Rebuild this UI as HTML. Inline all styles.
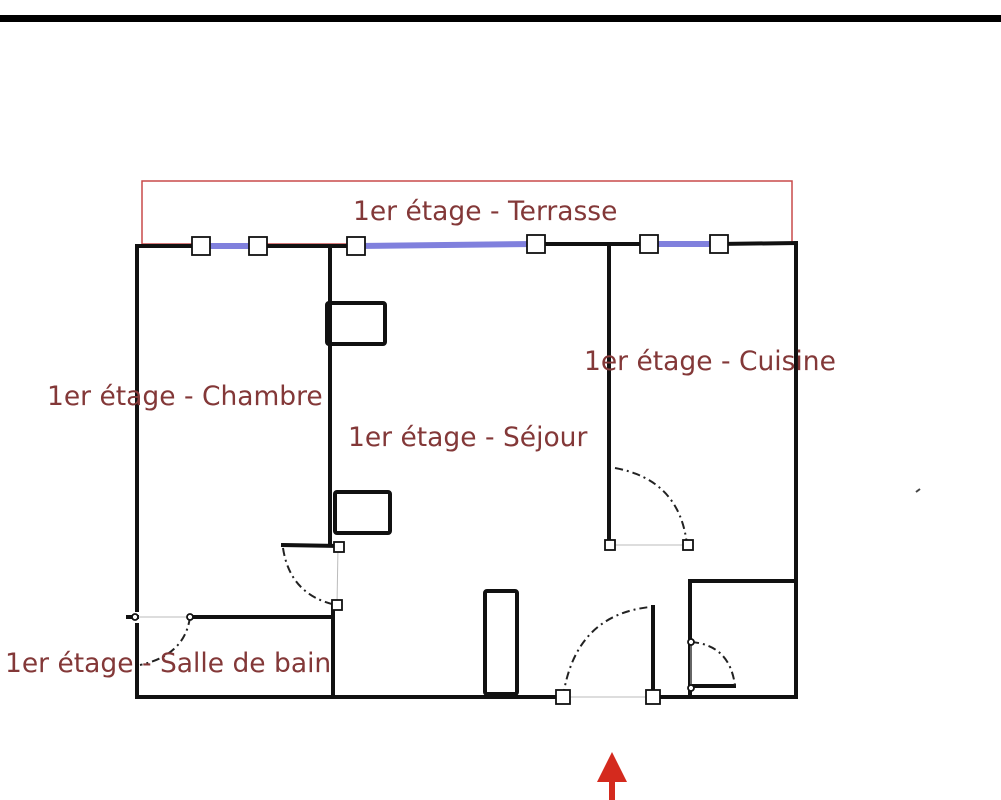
<!DOCTYPE html>
<html><head><meta charset="utf-8"><style>
html,body{margin:0;padding:0;background:#fff;width:1001px;height:800px;overflow:hidden}
svg{display:block}
text{font-family:"DejaVu Sans","Liberation Sans",sans-serif;font-size:26.5px;fill:#833838}
</style></head><body>
<svg width="1001" height="800" viewBox="0 0 1001 800" xmlns="http://www.w3.org/2000/svg">
<rect x="0" y="15" width="1001" height="7" fill="#000"/>
<rect x="142" y="181" width="650" height="63" fill="none" stroke="#c84a4a" stroke-width="1.5"/>
<g stroke="#8080dd" stroke-width="6">
<line x1="201" y1="246" x2="258" y2="246"/>
<line x1="356" y1="246" x2="535" y2="244"/>
<line x1="649" y1="244" x2="719" y2="244"/>
</g>
<g stroke="#111" stroke-width="4" fill="none" stroke-linecap="square">
<line x1="137" y1="246" x2="201" y2="246"/>
<line x1="258" y1="246" x2="356" y2="246"/>
<line x1="535" y1="244" x2="649" y2="244"/>
<line x1="719" y1="244" x2="796" y2="243"/>
<line x1="137" y1="246" x2="137" y2="610"/>
<line x1="137" y1="625" x2="137" y2="697"/>
<line x1="128" y1="617" x2="137" y2="617"/>
<line x1="796" y1="243" x2="796" y2="697"/>
<line x1="137" y1="697" x2="563" y2="697"/>
<line x1="653" y1="697" x2="796" y2="697"/>
<line x1="330" y1="247" x2="330" y2="545"/>
<line x1="333" y1="605" x2="333" y2="697"/>
<line x1="609" y1="244" x2="609" y2="545"/>
<line x1="190" y1="617" x2="333" y2="617"/>
<line x1="283" y1="545" x2="338" y2="546"/>
<line x1="690" y1="581" x2="796" y2="581"/>
<line x1="690" y1="581" x2="690" y2="697"/>
<line x1="691" y1="686" x2="734" y2="686"/>
<line x1="653" y1="607" x2="653" y2="697"/>
<rect x="485" y="591" width="32" height="103" rx="2"/>
<rect x="327" y="303" width="58" height="41" rx="2"/>
<rect x="335" y="492" width="55" height="41" rx="2"/>
</g>
<g stroke="#bbb" stroke-width="1">
<line x1="610" y1="545" x2="687" y2="545"/>
<line x1="563" y1="697" x2="653" y2="697"/>
<line x1="137" y1="617" x2="190" y2="617"/>
<line x1="338" y1="547" x2="337" y2="605"/>
<line x1="691" y1="642" x2="691" y2="688"/>
</g>
<g stroke="#222" stroke-width="2" fill="none" stroke-dasharray="8,4,2,4">
<path d="M283,548 Q290,595 336,605"/>
<path d="M615,468 Q680,480 687,545"/>
<path d="M563,697 Q575,615 650,607"/>
<path d="M691,642 Q730,645 735,686"/>
<path d="M190,617 Q185,655 140,665"/>
</g>
<g fill="#fff" stroke="#111" stroke-width="1.8">
<rect x="192" y="237" width="18" height="18"/>
<rect x="249" y="237" width="18" height="18"/>
<rect x="347" y="237" width="18" height="18"/>
<rect x="527" y="235" width="18" height="18"/>
<rect x="640" y="235" width="18" height="18"/>
<rect x="710" y="235" width="18" height="18"/>
<rect x="334" y="542" width="10" height="10"/>
<rect x="332" y="600" width="10" height="10"/>
<rect x="605" y="540" width="10" height="10"/>
<rect x="683" y="540" width="10" height="10"/>
<rect x="556" y="690" width="14" height="14"/>
<rect x="646" y="690" width="14" height="14"/>
<circle cx="135" cy="617" r="3"/>
<circle cx="190" cy="617" r="3"/>
<circle cx="691" cy="642" r="3"/>
<circle cx="691" cy="688" r="3"/>
</g>
<text x="353" y="220">1er étage - Terrasse</text>
<text x="584" y="370">1er étage - Cuisine</text>
<text x="47" y="405">1er étage - Chambre</text>
<text x="348" y="446">1er étage - Séjour</text>
<text x="5" y="672">1er étage - Salle de bain</text>
<polygon points="612,752 597,782 627,782" fill="#d42a1e"/>
<rect x="609" y="780" width="6" height="20" fill="#d42a1e"/>
<line x1="916" y1="492" x2="920" y2="489" stroke="#444" stroke-width="2"/>
</svg>
</body></html>
